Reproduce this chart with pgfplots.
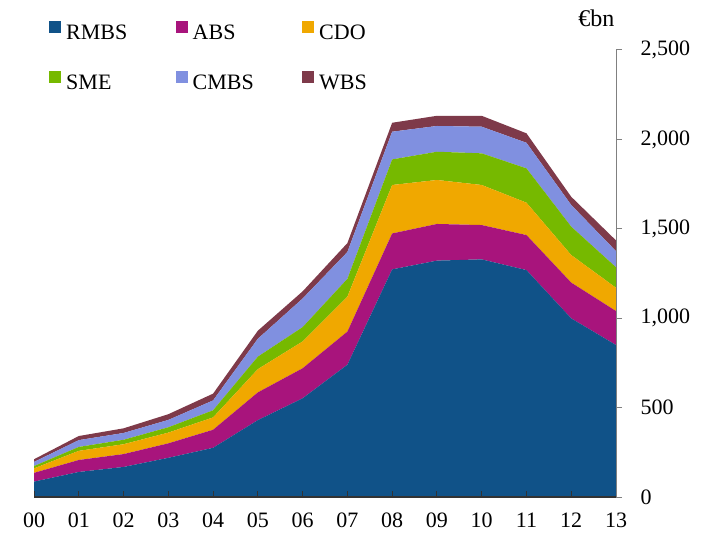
\documentclass[border=0pt]{standalone}
\usepackage{fontspec}
\setmainfont{Liberation Serif}
\usepackage{pgfplots}
\pgfplotsset{compat=1.18}
\usepackage{pgfplotstable}

\definecolor{rmbs}{RGB}{16,82,136}
\definecolor{abs}{RGB}{168,20,124}
\definecolor{cdo}{RGB}{240,168,0}
\definecolor{sme}{RGB}{118,185,0}
\definecolor{cmbs}{RGB}{128,144,224}
\definecolor{wbs}{RGB}{126,58,74}

% Outstanding amounts by collateral type, EUR bn (stacked)
\pgfplotstableread{
yr rmbs abs cdo sme cmbs wbs
0  86   49  25  13  23  15
1  140  67  51  22  38  23
2  168  72  55  25  38  26
3  219  81  60  30  41  32
4  275  101 69  40  55  38
5  430  155 130 70  100 45
6  552  168 150 80  160 40
7  740  185 195 100 150 50
8  1273 201 271 143 155 50
9  1322 205 246 158 144 57
10 1329 192 224 177 149 61
11 1269 196 181 192 143 53
12 999  200 154 159 121 46
13 850  190 130 115 90  60
}\outstanding

\begin{document}
\begin{tikzpicture}[font=\fontsize{22bp}{26bp}\selectfont]
\useasboundingbox (0,0) rectangle (712bp,538bp);
\begin{axis}[
  at={(34bp,41bp)}, anchor=south west,
  scale only axis, width=582bp, height=447bp,
  xmin=0, xmax=13, ymin=0, ymax=2500,
  stack plots=y, no markers,
  clip mode=individual,
  axis on top=true,
  axis x line*=bottom, axis y line*=right,
  x axis line style={black!80, line width=1.2bp, -},
  y axis line style={gray, line width=1bp, -},
  xtick={0,...,13},
  xticklabels={00,01,02,03,04,05,06,07,08,09,10,11,12,13},
  ytick={0,500,1000,1500,2000,2500},
  major tick length=6bp,
  xtick style={black!80, line width=1bp},
  ytick style={gray, line width=1bp, xshift=6bp},
  scaled y ticks=false,
  /pgf/number format/.cd, 1000 sep={,}, assume math mode=true, /pgfplots/.cd,
  xticklabel style={yshift=-12bp},
  yticklabel style={xshift=21bp},
  legend columns=3,
  legend cell align=left,
  legend image code/.code={\fill[#1] (0bp,0bp) rectangle (12bp,12bp);},
  legend style={draw=none, fill=none, inner sep=0pt,
    at={(axis description cs:0.0258,1.065)}, anchor=north west,
    row sep=30bp,
    nodes={inner sep=0pt, text width=80bp, align=left},
    /tikz/every odd column/.append style={column sep=5bp},
    /tikz/every even column/.append style={column sep=29.5bp}},
]
\addplot[fill=rmbs, draw=none] table[x=yr, y=rmbs] {\outstanding} \closedcycle;
\addplot[fill=abs,  draw=none] table[x=yr, y=abs]  {\outstanding} \closedcycle;
\addplot[fill=cdo,  draw=none] table[x=yr, y=cdo]  {\outstanding} \closedcycle;
\addplot[fill=sme,  draw=none] table[x=yr, y=sme]  {\outstanding} \closedcycle;
\addplot[fill=cmbs, draw=none] table[x=yr, y=cmbs] {\outstanding} \closedcycle;
\addplot[fill=wbs,  draw=none] table[x=yr, y=wbs]  {\outstanding} \closedcycle;
\legend{RMBS,ABS,CDO,SME,CMBS,WBS}
\node[anchor=base east, font=\fontsize{24bp}{28bp}\selectfont] at (rel axis cs:1,1) [yshift=23bp, xshift=2bp] {€bn};
\end{axis}
\end{tikzpicture}
\end{document}
